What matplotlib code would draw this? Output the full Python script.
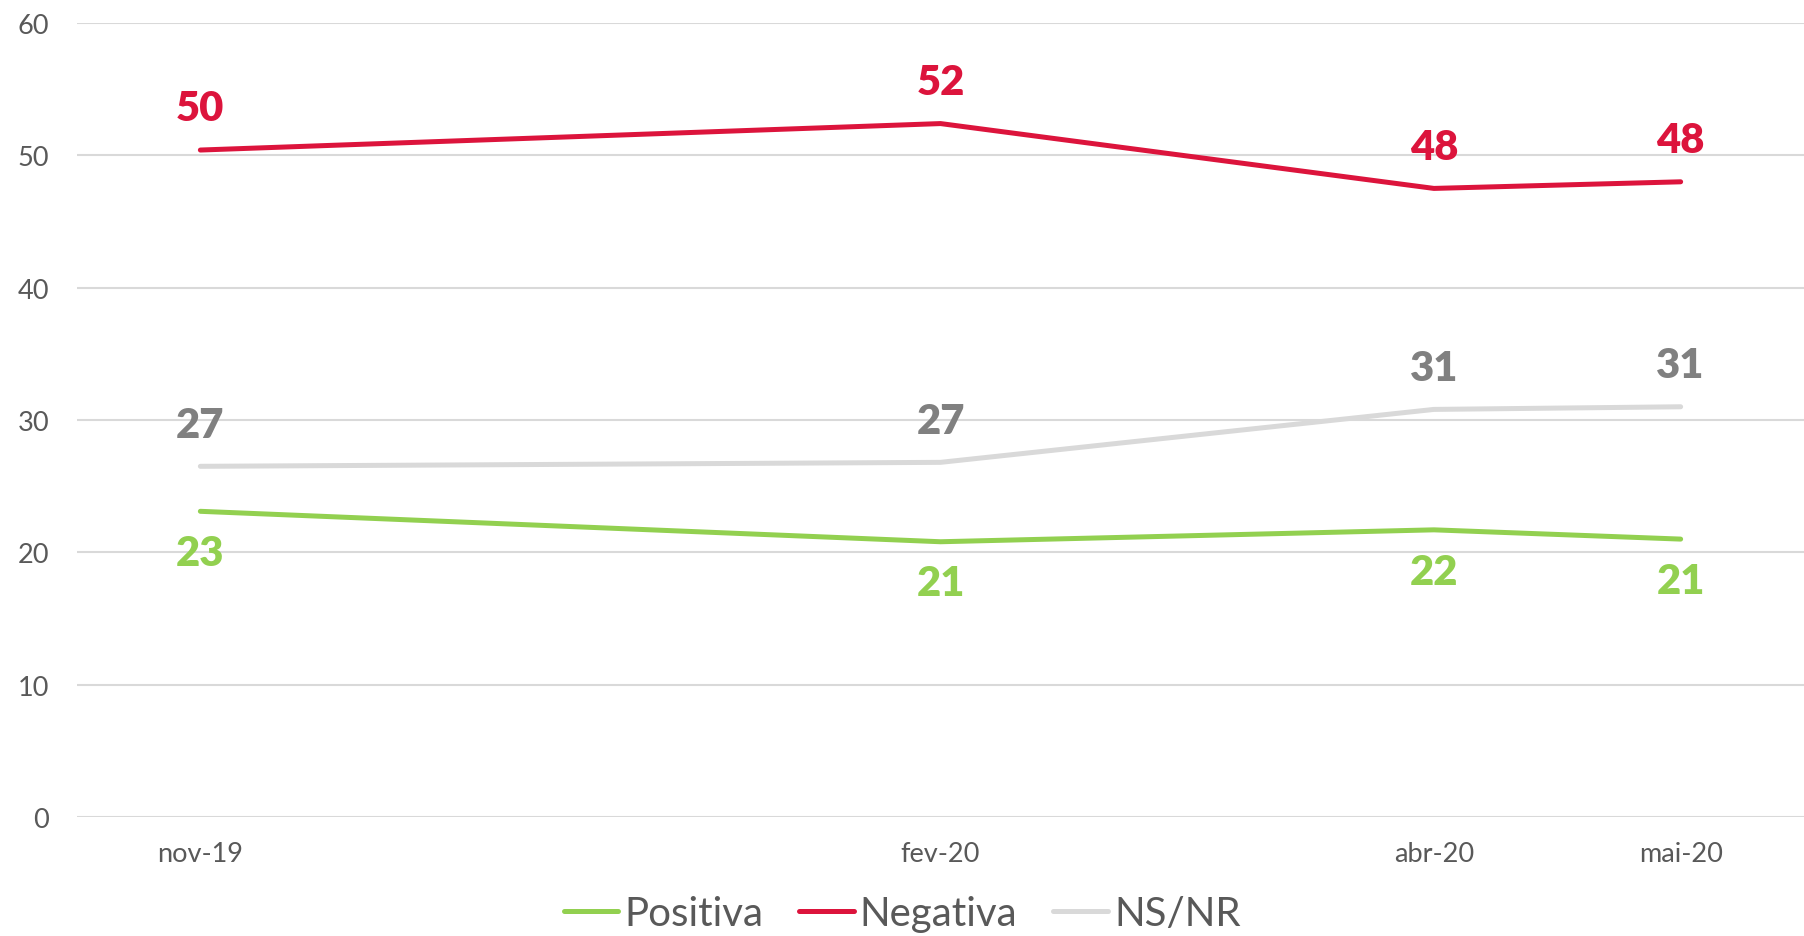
import matplotlib
matplotlib.use("Agg")
import matplotlib.pyplot as plt

months = ["nov-19", "fev-20", "abr-20", "mai-20"]
month_index = [0, 3, 5, 6]  # months since nov-19 (date axis)
positiva = [23.1, 20.8, 21.7, 21.0]
negativa = [50.4, 52.4, 47.5, 48.0]
nsnr = [26.5, 26.8, 30.8, 31.0]
positiva_lbl = ["23", "21", "22", "21"]
negativa_lbl = ["50", "52", "48", "48"]
nsnr_lbl = ["27", "27", "31", "31"]
yticks = [0, 10, 20, 30, 40, 50, 60]

plt.rcParams['font.family'] = ['Lato', 'DejaVu Sans']

fig = plt.figure(figsize=(18.04, 9.37), dpi=100)
ax = fig.add_axes([77/1804, 119/937, 1 - 77/1804, (818-24)/937])

GREEN = "#92D050"
RED = "#DC143C"
GRAY = "#D9D9D9"
LBLGRAY = "#808080"
TXT = "#595959"

for v, c, name in [(positiva, GREEN, "Positiva"), (negativa, RED, "Negativa"), (nsnr, GRAY, "NS/NR")]:
    ax.plot(month_index, v, color=c, lw=3.6, solid_capstyle='round', solid_joinstyle='round', label=name, zorder=3)

off = 30
lblkw = dict(textcoords='offset points', ha='center', va='center', fontsize=30, fontweight='heavy')
for x, y, t in zip(month_index, negativa, negativa_lbl):
    ax.annotate(t, (x, y), xytext=(0, off), color=RED, **lblkw)
for x, y, t in zip(month_index, nsnr, nsnr_lbl):
    ax.annotate(t, (x, y), xytext=(0, off), color=LBLGRAY, **lblkw)
for x, y, t in zip(month_index, positiva, positiva_lbl):
    ax.annotate(t, (x, y), xytext=(0, -off), color=GREEN, **lblkw)

ax.set_xlim(-0.5, 6.5)
ax.set_ylim(0, 60)
ax.set_yticks(yticks)
ax.set_xticks(month_index)
ax.set_xticklabels(months)
ax.tick_params(axis='y', length=0, pad=20, labelsize=19.5, labelcolor=TXT)
ax.tick_params(axis='x', length=0, pad=17, labelsize=19.5, labelcolor=TXT)
ax.grid(axis='y', color=GRAY, lw=1.5)
ax.set_axisbelow(True)
for s in ax.spines.values():
    s.set_visible(False)

leg = fig.legend(loc='center', bbox_to_anchor=(0.5, 1 - 915/937), ncol=3, frameon=False,
                 fontsize=29, handlelength=1.35, handletextpad=0.15, columnspacing=0.9)
for t in leg.get_texts():
    t.set_color(TXT)

fig.savefig("out.png", dpi=100)
